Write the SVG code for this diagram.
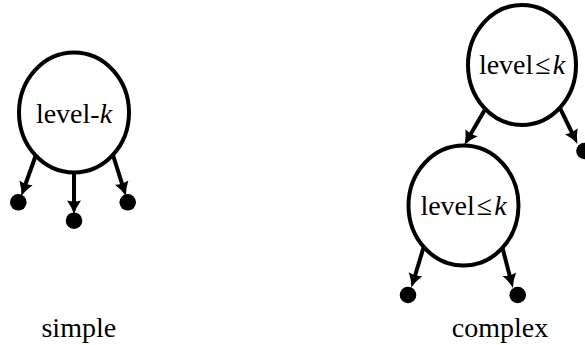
<svg xmlns="http://www.w3.org/2000/svg" width="585" height="345" viewBox="0 0 585 345">
<style>
.node{fill:#fff;stroke:#000;stroke-width:4}
.dot{fill:#000}
.edge{stroke:#000;stroke-width:4;fill:none;marker-end:url(#arr)}
.t{font-family:"Liberation Serif","Times New Roman",serif;font-size:28px;fill:#000;text-anchor:middle}
.it{font-style:italic}
</style>
<defs>
<marker id="arr" markerUnits="userSpaceOnUse" viewBox="-1 -8 17 16" markerWidth="17" markerHeight="16" refX="5" refY="0" orient="auto">
<path d="M0,-7 Q7,-2 14,0 Q7,2 0,7 Q2,0 0,-7 Z" fill="#000"/>
</marker>
</defs>
<g id="connectors">
<line class="edge" x1="37" y1="152" x2="24.3" y2="187.5"/>
<line class="edge" x1="74" y1="168" x2="74" y2="205.5"/>
<line class="edge" x1="112" y1="152" x2="123.2" y2="187.3"/>
<line class="edge" x1="487" y1="106" x2="469" y2="137.1"/>
<line class="edge" x1="559" y1="106" x2="573.5" y2="135.8"/>
<line class="edge" x1="424" y1="246" x2="414" y2="279"/>
<line class="edge" x1="502" y1="246" x2="510.6" y2="279.2"/>
</g>
<g id="simple-node">
<ellipse class="node" cx="74" cy="112.5" rx="55" ry="60"/>
<text class="t" x="74" y="123">level-<tspan class="it">k</tspan></text>
</g>
<g id="simple-leaf-1"><circle class="dot" cx="18.3" cy="202.3" r="8.3"/></g>
<g id="simple-leaf-2"><circle class="dot" cx="74" cy="220.7" r="8.3"/></g>
<g id="simple-leaf-3"><circle class="dot" cx="127.7" cy="202.3" r="8.3"/></g>
<g id="complex-top">
<ellipse class="node" cx="522" cy="65" rx="54" ry="60"/>
<text class="t" x="522" y="74">level<tspan dx="2">≤</tspan><tspan dx="2" class="it">k</tspan></text>
</g>
<g id="complex-top-leaf"><circle class="dot" cx="584.5" cy="151" r="8.3"/></g>
<g id="complex-child">
<ellipse class="node" cx="463.5" cy="205.5" rx="55" ry="60"/>
<text class="t" x="463.5" y="215">level<tspan dx="2">≤</tspan><tspan dx="2" class="it">k</tspan></text>
</g>
<g id="complex-leaf-1"><circle class="dot" cx="408" cy="295" r="8.3"/></g>
<g id="complex-leaf-2"><circle class="dot" cx="517.7" cy="295" r="8.3"/></g>
<g id="labels">
<text class="t" x="78.8" y="337">simple</text>
<text class="t" x="500" y="337">complex</text>
</g>
</svg>
